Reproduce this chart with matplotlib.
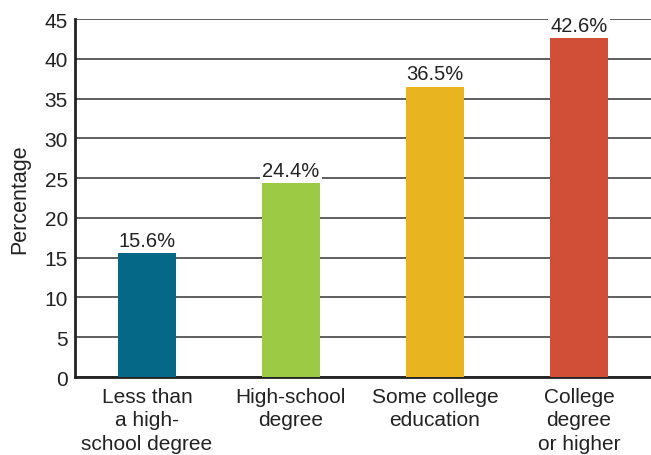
import matplotlib
matplotlib.use("Agg")
import matplotlib.pyplot as plt

# data
categories = ["Less than\na high-\nschool degree", "High-school\ndegree",
              "Some college\neducation", "College\ndegree\nor higher"]
values = [15.6, 24.4, 36.5, 42.6]
colors = ["#066887", "#9cca45", "#e8b520", "#d14f37"]
yticks = [0, 5, 10, 15, 20, 25, 30, 35, 40, 45]

plt.rcParams['font.family'] = ['Liberation Sans', 'DejaVu Sans']

fig = plt.figure(figsize=(6.51, 4.56), dpi=100)
ax = fig.add_axes([0.115, 0.171, 0.885, 0.785])

x = list(range(len(values)))
ax.bar(x, values, width=0.4, color=colors, zorder=3)

for xi, v in zip(x, values):
    ax.text(xi, v + 0.4, "%.1f%%" % v, ha="center", va="bottom", fontsize=14.5,
            color="#222222", zorder=4,
            bbox=dict(facecolor="white", edgecolor="none", pad=1.5))

ax.set_xlim(-0.5, 3.5)
ax.set_ylim(0, 45)
ax.set_yticks(yticks)
ax.set_xticks(x)
ax.set_xticklabels(categories, fontsize=15, linespacing=1.3, color="#222222")
ax.tick_params(axis="y", labelsize=15, length=0, pad=5, labelcolor="#222222")
ax.tick_params(axis="x", length=0, pad=7)
ax.yaxis.grid(True, color="#333333", linewidth=1.1, zorder=0)
ax.set_axisbelow(True)

for s in ["top", "right"]:
    ax.spines[s].set_visible(False)
ax.spines["left"].set_linewidth(2)
ax.spines["bottom"].set_linewidth(2)
ax.spines["left"].set_color("#222222")
ax.spines["bottom"].set_color("#222222")

ax.set_ylabel("Percentage", fontsize=15.5, color="#222222", labelpad=10)

fig.savefig("out.png", dpi=100)
